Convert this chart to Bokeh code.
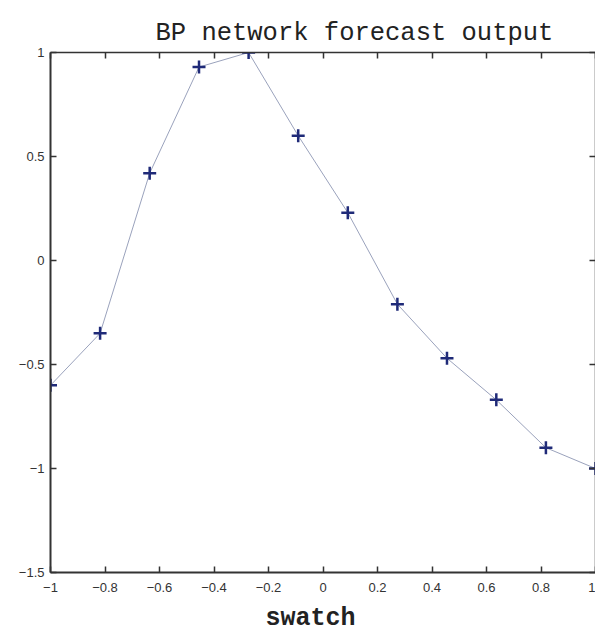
from bokeh.plotting import figure
from bokeh.models import Range1d, LinearAxis, FixedTicker, Title
from bokeh.embed import file_html
from bokeh.resources import INLINE

x_vals = [-1.0, -0.818, -0.636, -0.455, -0.273, -0.091, 0.091, 0.273, 0.455, 0.636, 0.818, 1.0]
y_vals = [-0.60, -0.35, 0.42, 0.93, 1.00, 0.60, 0.23, -0.21, -0.47, -0.67, -0.90, -1.00]
x_ticks = [-1, -0.8, -0.6, -0.4, -0.2, 0, 0.2, 0.4, 0.6, 0.8, 1]
y_ticks = [-1.5, -1, -0.5, 0, 0.5, 1]

p = figure(width=595, height=639, output_backend="svg", toolbar_location=None,
           x_range=Range1d(-1, 1), y_range=Range1d(-1.5, 1),
           min_border_left=50, min_border_right=0, min_border_top=52, min_border_bottom=0)
p.grid.visible = False
p.outline_line_color = None
p.background_fill_color = "white"

p.line(x_vals, y_vals, line_color="#9aa2bc", line_width=1)
p.scatter(x_vals, y_vals, marker="cross", size=13, line_color="#1f2a78", line_width=2.5)

def style(ax, labels=True):
    ax.axis_line_color = "#333333"
    ax.axis_line_width = 2
    ax.major_tick_in = 6
    ax.major_tick_out = 0
    ax.major_tick_line_color = "#333333"
    ax.major_tick_line_width = 1.5
    ax.minor_tick_line_color = None
    ax.major_label_text_font = "Liberation Sans"
    ax.major_label_text_font_size = "13px"
    ax.major_label_text_color = "#333333" if labels else None

p.xaxis.ticker = FixedTicker(ticks=x_ticks)
p.yaxis.ticker = FixedTicker(ticks=y_ticks)
style(p.xaxis[0])
style(p.yaxis[0])
p.xaxis.major_label_standoff = 10
p.yaxis.major_label_standoff = 6

top = LinearAxis(ticker=FixedTicker(ticks=x_ticks))
style(top, labels=False)
top.axis_line_width = 1.5
p.add_layout(top, "above")
right = LinearAxis(ticker=FixedTicker(ticks=y_ticks))
style(right, labels=False)
right.axis_line_width = 1.5
p.add_layout(right, "right")

p.title = Title(text="BP network forecast output", align="left", offset=105,
                text_font="Liberation Mono", text_font_size="25.5px",
                text_font_style="normal", text_color="#222222")
xl = Title(text="swatch", align="left", offset=215, standoff=14,
           text_font="Liberation Mono", text_font_size="25px",
           text_font_style="bold", text_color="#222222")
p.add_layout(xl, "below")

open("out.html", "w").write(file_html(p, INLINE))
